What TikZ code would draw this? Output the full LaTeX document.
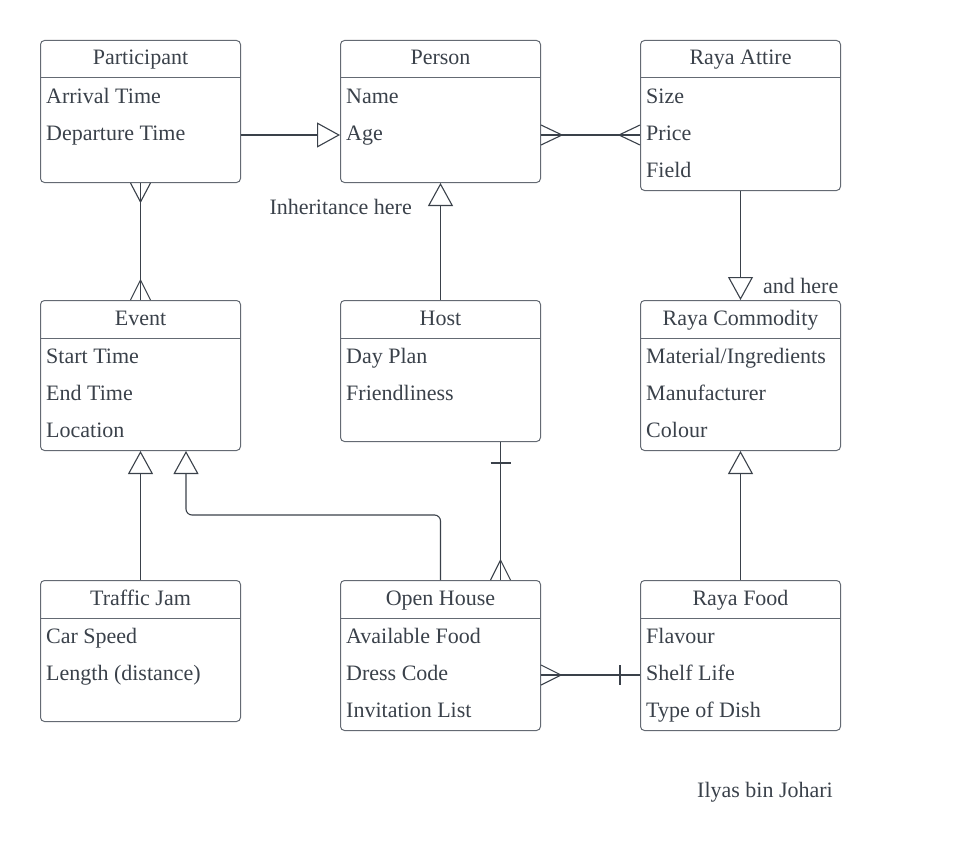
\documentclass[tikz,border=0pt]{standalone}
\usepackage{fontspec}
\setmainfont{Liberation Serif}
\usetikzlibrary{arrows.meta}
\usetikzlibrary{calc,positioning}
\definecolor{ink}{RGB}{58,65,74}
\definecolor{frame}{RGB}{100,106,115}

\begin{document}
\begin{tikzpicture}[
    x=1pt, y=-1pt,
    every node/.style={text=ink, font=\fontsize{22pt}{26pt}\selectfont, inner sep=0pt},
    box/.style={draw=frame, line width=1pt, rounded corners=4pt, minimum width=200pt, anchor=north west},
    attr/.style={text height=15pt, text depth=5pt},
    rule/.style={draw=frame, line width=1pt},
    link/.style={draw=ink, line width=1.1pt},
    isa/.style={link, -{Triangle[open, length=23pt, width=25pt]}},
 ]
    \useasboundingbox (0,0) rectangle (960,864);

    \node[box, minimum height=142pt] (Part) at (40,40) {};
    \node[attr] (PartT) at ([yshift=-20pt]Part.north) {Participant};
    \draw[rule] ([yshift=-38pt]Part.north west) -- ([yshift=-38pt]Part.north east);
    \node[attr, anchor=west] (Part1) at ([xshift=6pt, yshift=-58pt]Part.north west) {Arrival Time};
    \node[attr, below=37pt of Part1.west, anchor=west] (Part2) {Departure Time};

    \node[box, minimum height=142pt] (Pers) at (340,40) {};
    \node[attr] (PersT) at ([yshift=-20pt]Pers.north) {Person};
    \draw[rule] ([yshift=-38pt]Pers.north west) -- ([yshift=-38pt]Pers.north east);
    \node[attr, anchor=west] (Pers1) at ([xshift=6pt, yshift=-58pt]Pers.north west) {Name};
    \node[attr, below=37pt of Pers1.west, anchor=west] (Pers2) {Age};

    \node[box, minimum height=150pt] (Att) at (640,40) {};
    \node[attr] (AttT) at ([yshift=-20pt]Att.north) {Raya Attire};
    \draw[rule] ([yshift=-38pt]Att.north west) -- ([yshift=-38pt]Att.north east);
    \node[attr, anchor=west] (Att1) at ([xshift=6pt, yshift=-58pt]Att.north west) {Size};
    \node[attr, below=37pt of Att1.west, anchor=west] (Att2) {Price};
    \node[attr, below=37pt of Att2.west, anchor=west] (Att3) {Field};

    \node[box, minimum height=150pt] (Ev) at (40,300) {};
    \node[attr] (EvT) at ([yshift=-20pt]Ev.north) {Event};
    \draw[rule] ([yshift=-38pt]Ev.north west) -- ([yshift=-38pt]Ev.north east);
    \node[attr, anchor=west] (Ev1) at ([xshift=6pt, yshift=-58pt]Ev.north west) {Start Time};
    \node[attr, below=37pt of Ev1.west, anchor=west] (Ev2) {End Time};
    \node[attr, below=37pt of Ev2.west, anchor=west] (Ev3) {Location};

    \node[box, minimum height=141pt] (Host) at (340,300) {};
    \node[attr] (HostT) at ([yshift=-20pt]Host.north) {Host};
    \draw[rule] ([yshift=-38pt]Host.north west) -- ([yshift=-38pt]Host.north east);
    \node[attr, anchor=west] (Host1) at ([xshift=6pt, yshift=-58pt]Host.north west) {Day Plan};
    \node[attr, below=37pt of Host1.west, anchor=west] (Host2) {Friendliness};

    \node[box, minimum height=150pt] (Com) at (640,300) {};
    \node[attr] (ComT) at ([yshift=-20pt]Com.north) {Raya Commodity};
    \draw[rule] ([yshift=-38pt]Com.north west) -- ([yshift=-38pt]Com.north east);
    \node[attr, anchor=west] (Com1) at ([xshift=6pt, yshift=-58pt]Com.north west) {Material/Ingredients};
    \node[attr, below=37pt of Com1.west, anchor=west] (Com2) {Manufacturer};
    \node[attr, below=37pt of Com2.west, anchor=west] (Com3) {Colour};

    \node[box, minimum height=141pt] (Traf) at (40,580) {};
    \node[attr] (TrafT) at ([yshift=-20pt]Traf.north) {Traffic Jam};
    \draw[rule] ([yshift=-38pt]Traf.north west) -- ([yshift=-38pt]Traf.north east);
    \node[attr, anchor=west] (Traf1) at ([xshift=6pt, yshift=-58pt]Traf.north west) {Car Speed};
    \node[attr, below=37pt of Traf1.west, anchor=west] (Traf2) {Length (distance)};

    \node[box, minimum height=150pt] (Open) at (340,580) {};
    \node[attr] (OpenT) at ([yshift=-20pt]Open.north) {Open House};
    \draw[rule] ([yshift=-38pt]Open.north west) -- ([yshift=-38pt]Open.north east);
    \node[attr, anchor=west] (Open1) at ([xshift=6pt, yshift=-58pt]Open.north west) {Available Food};
    \node[attr, below=37pt of Open1.west, anchor=west] (Open2) {Dress Code};
    \node[attr, below=37pt of Open2.west, anchor=west] (Open3) {Invitation List};

    \node[box, minimum height=150pt] (Food) at (640,580) {};
    \node[attr] (FoodT) at ([yshift=-20pt]Food.north) {Raya Food};
    \draw[rule] ([yshift=-38pt]Food.north west) -- ([yshift=-38pt]Food.north east);
    \node[attr, anchor=west] (Food1) at ([xshift=6pt, yshift=-58pt]Food.north west) {Flavour};
    \node[attr, below=37pt of Food1.west, anchor=west] (Food2) {Shelf Life};
    \node[attr, below=37pt of Food2.west, anchor=west] (Food3) {Type of Dish};

    \draw[isa] (Part.east |- Pers2) -- (Pers.west |- Pers2);
    \draw[isa] (Host.north) -- (Pers.south);
    \draw[isa] (Att.south) -- (Com.north);
    \draw[isa] (Traf.north) -- (Ev.south);
    \draw[isa] (Food.north) -- (Com.south);
    \coordinate (bend) at (186,515);
    \draw[isa, rounded corners=6pt] (Open.north) |- (bend) -- (bend |- Ev.south);

    \coordinate (PA0) at (Pers.east |- Pers2);
    \coordinate (PA1) at (Att.west |- Pers2);
    \draw[link] (PA0) -- (PA1);
    \draw[link] ([yshift=10pt]PA0) -- ++(21,10) -- ++(-21,10);
    \draw[link] ([yshift=10pt]PA1) -- ++(-21,10) -- ++(21,10);

    \draw[link] (Part.south) -- (Ev.north);
    \draw[link] ([xshift=-10pt]Part.south) -- ++(10,19) -- ++(10,-19);
    \draw[link] ([xshift=-10pt]Ev.north) -- ++(10,-20) -- ++(10,20);

    \coordinate (HO0) at ([xshift=60pt]Host.south);
    \coordinate (HO1) at ([xshift=60pt]Open.north);
    \draw[link] (HO0) -- (HO1);
    \draw[link] ([xshift=-10pt]HO0) ++(0,21) -- ++(20,0);
    \draw[link] ([xshift=-10pt]HO1) -- ++(10,-20) -- ++(10,20);

    \coordinate (OF0) at (Open.east |- Open2);
    \coordinate (OF1) at (Food.west |- Open2);
    \draw[link] (OF0) -- (OF1);
    \draw[link] ([yshift=10pt]OF0) -- ++(20,10) -- ++(-20,10);
    \draw[link] ([yshift=10pt]OF1) ++(-20,0) -- ++(0,20);

    \node[attr, anchor=east] (Inh) at (412,209) {Inheritance here};
    \node[attr, anchor=west] (And) at (763,288) {and here};
    \node[attr] (Sign) at (765,792) {Ilyas bin Johari};

\end{tikzpicture}
\end{document}
